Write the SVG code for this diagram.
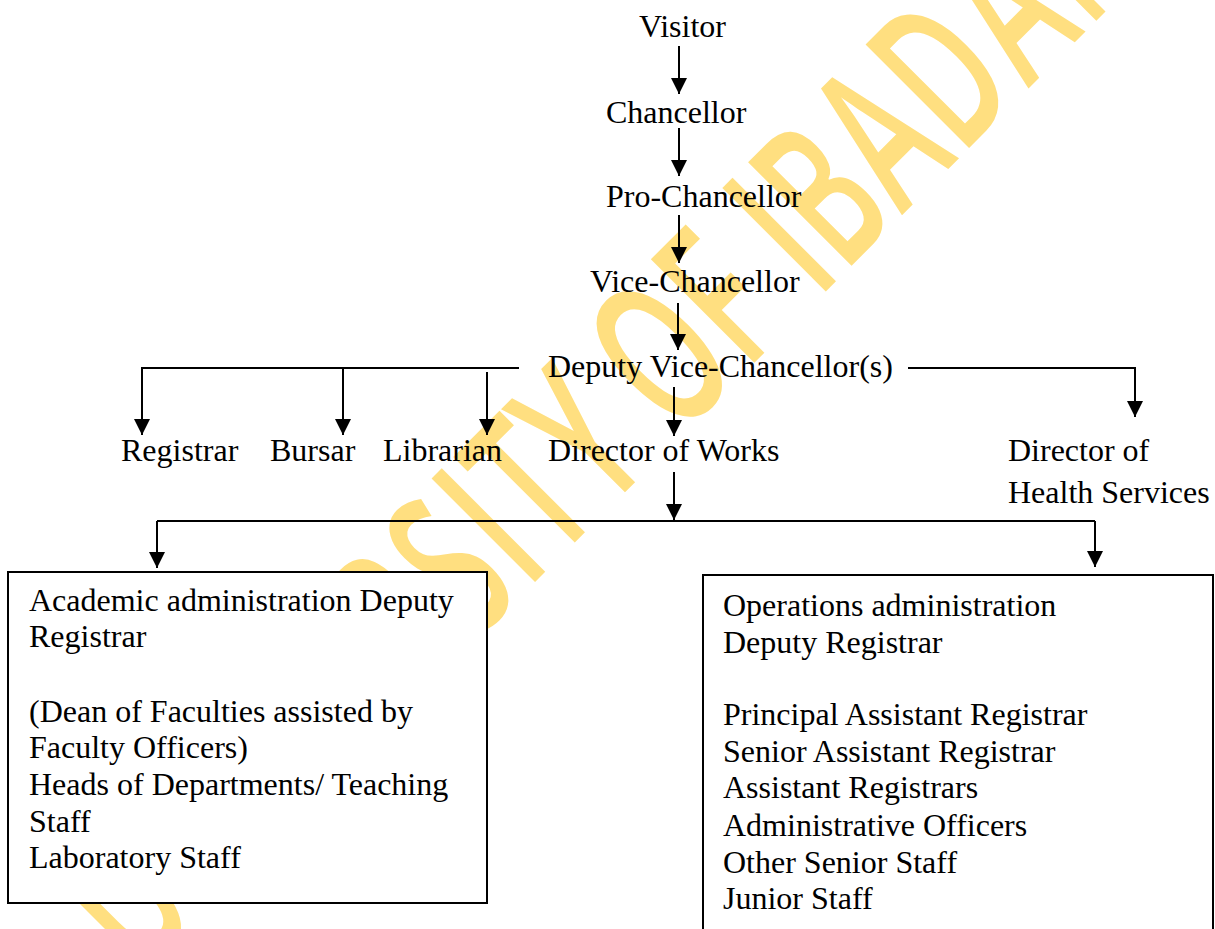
<svg xmlns="http://www.w3.org/2000/svg" width="1215" height="929" viewBox="0 0 1215 929">
<defs>
<style>
.t{font-family:"Liberation Serif","Times New Roman",serif;font-size:32px;fill:#000}
.c{fill:none;stroke:#000;stroke-width:2}
.box{fill:#fff;stroke:#000;stroke-width:2}
.wm{font-family:"Open Sans","Liberation Sans",sans-serif;font-size:122px;font-weight:600;fill:#FFDF80}
</style>
<marker id="ah" markerUnits="userSpaceOnUse" markerWidth="16" markerHeight="16" refX="16" refY="8" orient="auto" viewBox="0 0 16 16">
<path d="M0,0 L16,8 L0,16 z" fill="#000"/>
</marker>
</defs>
<rect width="1215" height="929" fill="#fff"/>
<g id="watermark" transform="rotate(-45)">
<text class="wm" transform="scale(1,1.68)" y="470.2" text-anchor="middle" x="-548 -451 -384 -319 -236 -159 -82 -26 30 101 160 216 298 342 385 443 526 614 705 797">UNIVERSITY OF IBADAN</text>
</g>
<g id="connectors">
<path class="c" d="M679,46 V94" marker-end="url(#ah)"/>
<path class="c" d="M679,128 V176" marker-end="url(#ah)"/>
<path class="c" d="M679,215 V263" marker-end="url(#ah)"/>
<path class="c" d="M678,303 V350" marker-end="url(#ah)"/>
<path class="c" d="M674,387 V436" marker-end="url(#ah)"/>
<path class="c" d="M674,472 V520" marker-end="url(#ah)"/>
<path class="c" d="M519,368 H142 V435" marker-end="url(#ah)"/>
<path class="c" d="M343,368 V435" marker-end="url(#ah)"/>
<path class="c" d="M487,372 V435" marker-end="url(#ah)"/>
<path class="c" d="M908,368 H1135 V417" marker-end="url(#ah)"/>
<path class="c" d="M157,521 H1095"/>
<path class="c" d="M157,521 V568" marker-end="url(#ah)"/>
<path class="c" d="M1095,521 V567" marker-end="url(#ah)"/>
</g>
<g id="visitor"><text class="t" x="639" y="37">Visitor</text></g>
<g id="chancellor"><text class="t" x="606" y="123">Chancellor</text></g>
<g id="pro-chancellor"><text class="t" x="606" y="207">Pro-Chancellor</text></g>
<g id="vice-chancellor"><text class="t" x="590" y="292">Vice-Chancellor</text></g>
<g id="deputy-vc"><text class="t" x="548" y="377">Deputy Vice-Chancellor(s)</text></g>
<g id="registrar"><text class="t" x="121" y="461">Registrar</text></g>
<g id="bursar"><text class="t" x="270" y="461">Bursar</text></g>
<g id="librarian"><text class="t" x="383" y="461">Librarian</text></g>
<g id="director-works"><text class="t" x="548" y="461">Director of Works</text></g>
<g id="director-health"><text class="t" x="1008" y="461">Director of</text><text class="t" x="1008" y="503">Health Services</text></g>
<g id="academic-admin">
<rect class="box" x="8" y="572" width="479" height="331"/>
<text class="t" x="29" y="611">Academic administration Deputy</text>
<text class="t" x="29" y="647">Registrar</text>
<text class="t" x="29" y="722">(Dean of Faculties assisted by</text>
<text class="t" x="29" y="758">Faculty Officers)</text>
<text class="t" x="29" y="795">Heads of Departments/ Teaching</text>
<text class="t" x="29" y="832">Staff</text>
<text class="t" x="29" y="868">Laboratory Staff</text>
</g>
<g id="operations-admin">
<rect class="box" x="703" y="575" width="510" height="370"/>
<text class="t" x="723" y="616">Operations administration</text>
<text class="t" x="723" y="653">Deputy Registrar</text>
<text class="t" x="723" y="725">Principal Assistant Registrar</text>
<text class="t" x="723" y="762">Senior Assistant Registrar</text>
<text class="t" x="723" y="798">Assistant Registrars</text>
<text class="t" x="723" y="836">Administrative Officers</text>
<text class="t" x="723" y="873">Other Senior Staff</text>
<text class="t" x="723" y="909">Junior Staff</text>
</g>
</svg>
